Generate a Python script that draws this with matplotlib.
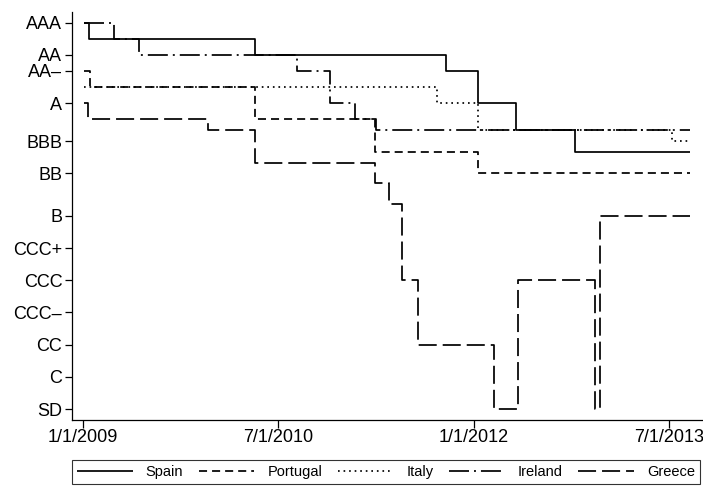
import matplotlib
matplotlib.use("Agg")
import matplotlib.pyplot as plt
import matplotlib.dates as mdates
import pandas as pd

plt.rcParams['font.family'] = ['Liberation Sans', 'DejaVu Sans']
plt.rcParams['lines.scale_dashes'] = False

# Rating scale (position of each rating on the chart's vertical scale)
rating_names = ["SD", "C", "CC", "CCC-", "CCC", "CCC+", "B", "B+", "BB-", "BB", "BB+",
                "BBB-", "BBB", "BBB+", "A-", "A", "A+", "AA-", "AA", "AA+", "AAA"]
rating_pos = [0, 1, 2, 3, 4, 5, 6, 6.37, 7.02, 7.33, 7.64,
              7.98, 8.32, 8.66, 9.01, 9.5, 10.0, 10.5, 11.0, 11.5, 12.0]
scale = dict(zip(rating_names, rating_pos))

tick_ratings = ["AAA", "AA", "AA-", "A", "BBB", "BB", "B", "CCC+", "CCC", "CCC-", "CC", "C", "SD"]
tick_labels = ["AAA", "AA", "AA\u2013", "A", "BBB", "BB", "B", "CCC+", "CCC", "CCC\u2013", "CC", "C", "SD"]

x_tick_dates = ["2009-01-01", "2010-07-01", "2012-01-01", "2013-07-01"]
x_tick_labels = ["1/1/2009", "7/1/2010", "1/1/2012", "7/1/2013"]

end_date = "2013-08-28"

spain_dates = ["2009-01-03", "2009-01-19", "2010-04-28", "2011-10-13", "2012-01-13", "2012-04-26", "2012-10-10"]
spain_ratings = ["AAA", "AA+", "AA", "AA-", "A", "BBB+", "BBB-"]

portugal_dates = ["2009-01-03", "2009-01-21", "2010-04-27", "2011-03-29", "2012-01-13"]
portugal_ratings = ["AA-", "A+", "A-", "BBB-", "BB"]

italy_dates = ["2009-01-03", "2011-09-19", "2012-01-13", "2013-07-09"]
italy_ratings = ["A+", "A", "BBB+", "BBB"]

ireland_dates = ["2009-01-03", "2009-03-30", "2009-06-08", "2010-08-24", "2010-11-23", "2011-02-02", "2011-04-01"]
ireland_ratings = ["AAA", "AA+", "AA", "AA-", "A", "A-", "BBB+"]

greece_dates = ["2009-01-03", "2009-01-14", "2009-12-16", "2010-04-27", "2011-03-29", "2011-05-09",
                "2011-06-13", "2011-07-27", "2012-02-27", "2012-05-02", "2012-12-05", "2012-12-18"]
greece_ratings = ["A", "A-", "BBB+", "BB+", "BB-", "B+", "CCC", "CC", "SD", "CCC", "SD", "B"]

series = [
    ("Spain", spain_dates, spain_ratings, (0, ())),
    ("Portugal", portugal_dates, portugal_ratings, (0, (5.8, 3.6))),
    ("Italy", italy_dates, italy_ratings, (0, (1.2, 2.8))),
    ("Ireland", ireland_dates, ireland_ratings, (0, (14.4, 3.6, 1.4, 3.6))),
    ("Greece", greece_dates, greece_ratings, (0, (13.0, 4.3))),
]

W, H = 703, 491
fig = plt.figure(figsize=(W / 100, H / 100), dpi=100)
ax = fig.add_axes([72 / W, 1 - 420 / H, (W - 72) / W, (420 - 12) / H])

for name, d, r, ls in series:
    x = pd.to_datetime(d + [end_date])
    y = [scale[k] for k in r] + [scale[r[-1]]]
    ax.step(x, y, where='post', color='black', lw=1.25, linestyle=ls, label=name)

ax.set_xlim(pd.Timestamp("2008-12-01"), pd.Timestamp("2013-10-03"))
ax.set_ylim(-0.34, 12.33)

ax.set_yticks([scale[k] for k in tick_ratings])
ax.set_yticklabels(tick_labels)
ax.set_xticks(pd.to_datetime(x_tick_dates))
ax.set_xticklabels(x_tick_labels)

for s in ['top', 'right']:
    ax.spines[s].set_visible(False)
for s in ['left', 'bottom']:
    ax.spines[s].set_linewidth(0.9)
ax.tick_params(axis='y', length=5, width=0.9, pad=2, labelsize=13)
ax.tick_params(axis='x', length=5.5, width=0.9, pad=1, labelsize=13)

leg = fig.legend(loc='lower left', bbox_to_anchor=(72 / W, 1 - 484 / H, (700 - 72) / W, 26 / H),
                 mode='expand', ncol=5, fontsize=10.5, frameon=True, fancybox=False,
                 handlelength=3.8, handletextpad=0.9, columnspacing=1.0, borderpad=0.35,
                 borderaxespad=0)
leg.get_frame().set_edgecolor('black')
leg.get_frame().set_linewidth(0.8)

fig.savefig("out.png", dpi=100)
